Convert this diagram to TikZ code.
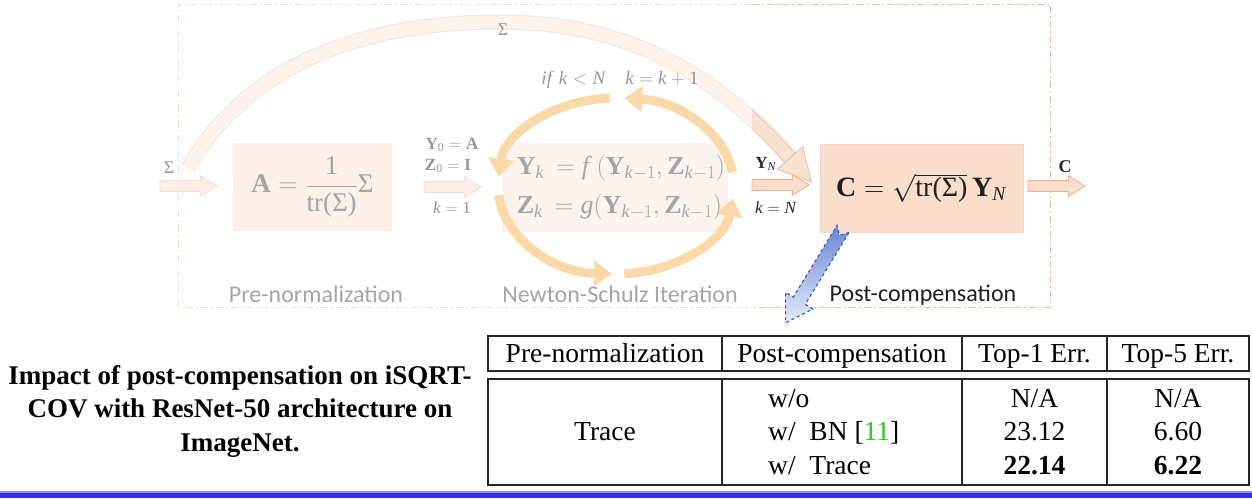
\RequirePackage{fix-cm}
\documentclass[tikz,border=0pt]{standalone}
\usepackage{amsmath}
\usepackage{fontspec}
\setmainfont{Liberation Serif}
\newfontfamily\calib{Carlito}
\usetikzlibrary{arrows.meta,shapes.arrows,calc}

\definecolor{fadetxt}{RGB}{165,165,165}
\definecolor{fadelbl}{RGB}{150,150,150}
\definecolor{fadebox}{RGB}{252,240,233}
\definecolor{nsbox}{RGB}{251,243,238}
\definecolor{cbox}{RGB}{250,222,204}
\definecolor{cboxline}{RGB}{245,212,192}
\definecolor{ringc}{RGB}{250,216,168}
\definecolor{fadearrowfill}{RGB}{252,238,230}
\definecolor{fadearrowline}{RGB}{247,222,208}
\definecolor{arrowfill}{RGB}{250,222,205}
\definecolor{arrowline}{RGB}{236,178,145}
\definecolor{framefade}{RGB}{242,222,208}
\definecolor{framec}{RGB}{225,190,165}
\definecolor{sigfadefill}{RGB}{253,243,237}
\definecolor{sigfadeline}{RGB}{248,226,214}
\definecolor{sigfill}{RGB}{250,226,210}
\definecolor{sigline}{RGB}{238,196,172}
\definecolor{bluedash}{RGB}{60,85,160}
\definecolor{bluetop}{RGB}{105,135,215}
\definecolor{bluebot}{RGB}{228,234,250}
\definecolor{refgreen}{RGB}{40,200,40}
\definecolor{barblue}{RGB}{52,52,222}
\definecolor{barlight}{RGB}{140,140,235}

\newcommand\bfm[1]{\text{\textbf{#1}}}
\newcommand\itm[1]{\text{\textit{#1}}}
\newcommand\rmt[1]{\text{#1}}
\newcommand\fsz[2]{\fontsize{#1}{#2}\selectfont}

\begin{document}
\begin{tikzpicture}[x=1pt,y=1pt,
  framefadeS/.style={draw=framefade, line width=1pt, dash pattern=on 7pt off 3pt on 2pt off 3pt},
  framestrongS/.style={draw=framec, line width=1pt, dash pattern=on 7pt off 3pt on 2pt off 3pt},
  boxS/.style={inner sep=0pt, outer sep=0pt},
  fatarrow/.style={single arrow, single arrow head extend=5pt, single arrow tip angle=64,
    inner xsep=0pt, inner ysep=5pt, minimum height=57pt, minimum width=20pt,
    outer sep=0pt, line width=0.8pt, anchor=tail},
  fadearrow/.style={fatarrow, fill=fadearrowfill, draw=fadearrowline},
  strongarrow/.style={fatarrow, fill=arrowfill, draw=arrowline},
  ringS/.style={draw=ringc, line width=9pt, -{Triangle[length=18pt,width=25pt]}},
  fadelab/.style={text=fadelbl, inner sep=0pt},
  seclab/.style={font=\calib\fsz{24}{28}, anchor=base, inner sep=0pt},
  tabline/.style={draw=black!85, line width=1.5pt},
  tabtxt/.style={font=\fsz{27.5}{30}, anchor=base, inner sep=0pt},
  tabtxtl/.style={font=\fsz{27.5}{30}, anchor=base west, inner sep=0pt}
]
\useasboundingbox (0,0) rectangle (1252,-498);

% dashed frame
\draw[framefadeS] (752,-4) -- (178,-4) -- (178,-307) -- (752,-307);
\draw[framestrongS] (752,-4) -- (1050,-4) -- (1050,-307) -- (752,-307);

% boxes
\node[boxS, fill=fadebox, minimum width=159pt, minimum height=88pt, text=fadetxt] (A) at (312.5,-187)
  {\fsz{27}{30}$\bfm{A} = \dfrac{\rmt{1}}{\rmt{tr(Σ)}}\rmt{Σ}$};
\node[boxS, fill=nsbox, minimum width=226pt, minimum height=89pt] (NS) at (615,-187.5) {};
\node[boxS, fill=cbox, draw=cboxline, line width=0.8pt, minimum width=203pt, minimum height=88pt, text=black!88] (C) at (921.5,-188)
  {\fsz{28}{30}$\bfm{C} = \sqrt{\rmt{tr(Σ)}}\,\bfm{Y}_{\itm{N}}$};

% ring arrows
\coordinate (rc) at (616,-186);
\draw[ringS] ($(rc)+(9:118pt and 88pt)$) arc[start angle=9, end angle=86, x radius=118pt, y radius=88pt];
\draw[ringS] ($(rc)+(93:118pt and 88pt)$) arc[start angle=93, end angle=174, x radius=118pt, y radius=88pt];
\draw[ringS] ($(rc)+(186:118pt and 88pt)$) arc[start angle=186, end angle=268, x radius=118pt, y radius=88pt];
\draw[ringS] ($(rc)+(274:118pt and 88pt)$) arc[start angle=274, end angle=352, x radius=118pt, y radius=88pt];

% NS formulas
\node[inner sep=0pt, align=left, text=fadetxt, font=\fsz{26}{39}] (NSt) at (621,-187.5)
  {$\bfm{Y}_{\itm{k}} \,= \itm{f}\,(\bfm{Y}_{\itm{k}-1}, \bfm{Z}_{\itm{k}-1})$\\
   $\bfm{Z}_{\itm{k}} \,= \itm{g}(\bfm{Y}_{\itm{k}-1}, \bfm{Z}_{\itm{k}-1})$};

% sigma arc (faded part, then strong part)
\coordinate (s0) at (188,-168);
\coordinate (s1) at (500,-22);
\coordinate (s2) at (790,-158);
\path[draw=sigfadeline, double=sigfadefill, double distance=13pt, line width=1pt]
  (s0) .. controls (250,-60) and (370,-22) .. (s1) .. controls (640,-22) and (725,-85) .. (s2);
\path[draw=sigfadeline, fill=sigfadefill, line width=1pt] (802.7,-146.7) -- (811.3,-181.9) -- (777.3,-169.3) -- cycle;
\begin{scope}
  \clip (752,0) rectangle (1252,-498);
  \path[draw=sigline, double=sigfill, double distance=13pt, line width=1pt]
    (s0) .. controls (250,-60) and (370,-22) .. (s1) .. controls (640,-22) and (725,-85) .. (s2);
  \path[draw=sigline, fill=sigfill, line width=1pt] (802.7,-146.7) -- (811.3,-181.9) -- (777.3,-169.3) -- cycle;
\end{scope}

% fat arrows
\node[fadearrow] (a0) at ($(A.west)+(-73,1)$) {};
\node[fadearrow] (a1) at ($(A.east)+(32,0)$) {};
\node[strongarrow] (a2) at ($(NS.east)+(24,2.5)$) {};
\node[strongarrow] (a3) at ($(C.east)+(5,2)$) {};

% labels
\node[fadelab, font=\fsz{18}{20}] (sigL) at (169,-168) {Σ};
\node[fadelab, font=\fsz{18}{20}] (sigT) at (503,-30) {Σ};
\node[fadelab, font=\fsz{17}{19}] (y0) at (452,-145) {$\bfm{Y}_{\rmt{0}} = \bfm{A}$};
\node[fadelab, font=\fsz{17}{19}] (z0) at (448,-166) {$\bfm{Z}_{\rmt{0}} = \bfm{I}$};
\node[fadelab, font=\fsz{17}{19}] (k1) at (452,-208) {$\itm{k} = \rmt{1}$};
\node[fadelab, font=\fsz{19}{21}] (iff) at (620,-80) {\textit{if} $\itm{k} < \itm{N}$\quad $\itm{k} = \itm{k} + \rmt{1}$};
\node[inner sep=0pt, font=\fsz{17}{19}, text=black!85] (yn) at (766,-164) {$\bfm{Y}_{\itm{N}}$};
\node[inner sep=0pt, font=\fsz{17}{19}, text=black!85] (kn) at (776,-208) {$\itm{k} = \itm{N}$};
\node[inner sep=0pt, font=\fsz{18}{20}, text=black!85] (cl) at (1065,-167) {\textbf{C}};

\node[seclab, text=fadetxt] (pre) at (316,-302) {Pre-normalization};
\node[seclab, text=fadetxt] (nsi) at (620,-302) {Newton-Schulz Iteration};
\node[seclab, text=black!88] (post) at (923,-301) {Post-compensation};

% blue dashed arrow
\path[top color=bluetop, bottom color=bluebot, draw=bluedash, dashed, line width=1.1pt]
  (848.97,-232.65) -- (805.21,-304.34) -- (812.9,-309.03) -- (785.69,-322.89)
  -- (785.58,-292.35) -- (793.27,-297.04) -- (837.03,-225.35) -- (839.35,-234.97) -- cycle;

% table
\draw[tabline] (488,-336) rectangle (1249,-371);
\draw[tabline] (488,-379) rectangle (1249,-485);
\foreach \xx in {722,962,1107} {
  \draw[tabline] (\xx,-336) -- (\xx,-371);
  \draw[tabline] (\xx,-379) -- (\xx,-485);
}
\node[tabtxt] (h1) at (605,-362) {Pre-normalization};
\node[tabtxt] (h2) at (842,-362) {Post-compensation};
\node[tabtxt] (h3) at (1034.5,-362) {Top-1 Err.};
\node[tabtxt] (h4) at (1178,-362) {Top-5 Err.};
\node[tabtxt] (tr) at (605,-440.5) {Trace};
\node[tabtxtl] (p1) at (768,-407) {w/o};
\node[tabtxtl] (p2) at (768,-440.5) {w/\ \ BN [{\color{refgreen}11}]};
\node[tabtxtl] (p3) at (768,-474) {w/\ \ Trace};
\node[tabtxt] (t1) at (1034.5,-407) {N/A};
\node[tabtxt] (t2) at (1034.5,-440.5) {23.12};
\node[tabtxt] (t3) at (1034.5,-474) {\textbf{22.14}};
\node[tabtxt] (f1) at (1178,-407) {N/A};
\node[tabtxt] (f2) at (1178,-440.5) {6.60};
\node[tabtxt] (f3) at (1178,-474) {\textbf{6.22}};

% caption
\node[inner sep=0pt, align=center, font=\bfseries\fsz{27}{33.5}] (cap) at (240,-411)
  {Impact of post-compensation on iSQRT-\\COV with ResNet-50 architecture on\\ImageNet.};

% bottom bar
\fill[barblue] (0,-492) rectangle (1252,-498);
\fill[barlight] (0,-491) rectangle (1252,-492.5);
\end{tikzpicture}
\end{document}
